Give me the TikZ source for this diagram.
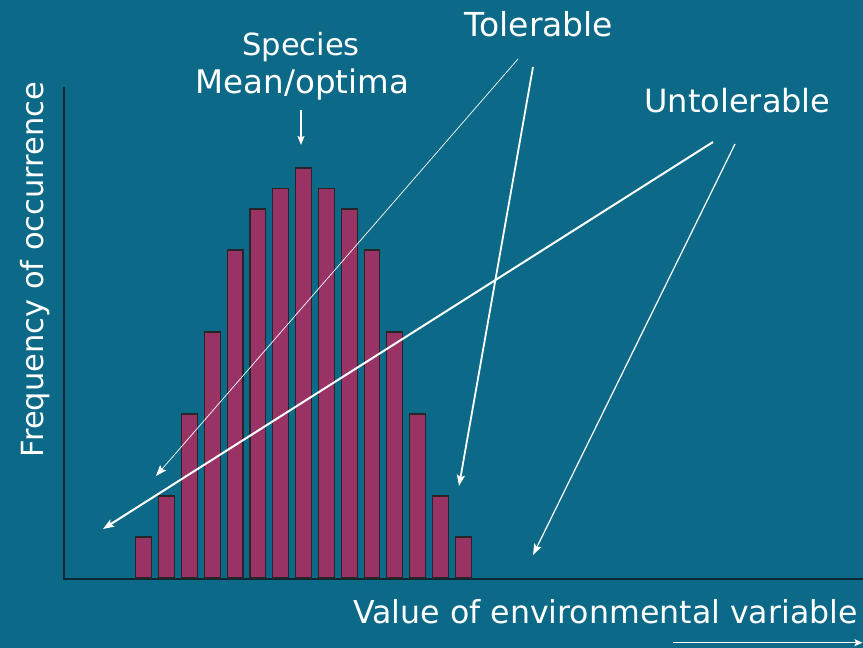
\documentclass[tikz,border=0pt]{standalone}
\usepackage{fontspec}
\setmainfont{DejaVu Sans}
\usepackage{xcolor}
\usepackage{tikz}
\usetikzlibrary{arrows.meta}
\definecolor{slideteal}{RGB}{12,105,136}
\definecolor{barplum}{RGB}{153,51,102}
\definecolor{axisdark}{RGB}{14,38,48}

\begin{document}
\begin{tikzpicture}[x=1pt,y=-1pt,
	bar/.style={fill=barplum,draw=black!85,line width=1.1pt},
	lbl/.style={text=white,inner sep=0pt,anchor=base},
	pointer/.style={white,-{Stealth[length=11pt,width=8pt,inset=2pt]}}]
	\useasboundingbox (0,0) rectangle (863,648);
	\fill[slideteal] (0,0) rectangle (863,648);
	\draw[axisdark,line width=1.8pt] (64,87)--(64,579)--(863,579);
	\draw[bar] (135.9,578) rectangle ++(15.8,-41);
	\draw[bar] (158.7,578) rectangle ++(15.8,-82);
	\draw[bar] (181.5,578) rectangle ++(15.8,-164);
	\draw[bar] (204.4,578) rectangle ++(15.8,-246);
	\draw[bar] (227.2,578) rectangle ++(15.8,-328);
	\draw[bar] (250.0,578) rectangle ++(15.8,-369);
	\draw[bar] (272.8,578) rectangle ++(15.8,-389.5);
	\draw[bar] (295.6,578) rectangle ++(15.8,-410);
	\draw[bar] (318.5,578) rectangle ++(15.8,-389.5);
	\draw[bar] (341.3,578) rectangle ++(15.8,-369);
	\draw[bar] (364.1,578) rectangle ++(15.8,-328);
	\draw[bar] (386.9,578) rectangle ++(15.8,-246);
	\draw[bar] (409.8,578) rectangle ++(15.8,-164);
	\draw[bar] (432.6,578) rectangle ++(15.8,-82);
	\draw[bar] (455.4,578) rectangle ++(15.8,-41);
	\node[lbl,font=\fontsize{30.5}{30.5}\selectfont] (species) at (301,55) {Species};
	\node[lbl,font=\fontsize{32.5}{32.5}\selectfont] (optima) at (302.5,93.3) {Mean/optima};
	\node[lbl,font=\fontsize{33}{33}\selectfont] (tolerable) at (539,36) {Tolerable};
	\node[lbl,font=\fontsize{32}{32}\selectfont] (untolerable) at (737.5,112) {Untolerable};
	\node[lbl,font=\fontsize{30.5}{30.5}\selectfont,rotate=90] (freq) at (43,269.5) {Frequency of occurrence};
	\node[lbl,font=\fontsize{31.6}{31.6}\selectfont] (envvar) at (605.5,623.3) {Value of environmental variable};
	\coordinate (optimum) at (301,110);
	\coordinate (peak) at (301,145);
	\coordinate (tolA) at (518,59);
	\coordinate (tolAend) at (156,476);
	\coordinate (tolB) at (533,67);
	\coordinate (tolBend) at (459,486);
	\coordinate (untA) at (713,142);
	\coordinate (untAend) at (103,529);
	\coordinate (untB) at (735,144);
	\coordinate (untBend) at (533,555);
	\coordinate (envstart) at (673,642.7);
	\coordinate (envend) at (862.5,642.7);
	\draw[white,line width=1.2pt,-{Stealth[length=9pt,width=7pt,inset=1.5pt]}] (optimum)--(peak);
	\draw[pointer,line width=0.7pt] (tolA)--(tolAend);
	\draw[pointer,line width=1.8pt] (tolB)--(tolBend);
	\draw[pointer,line width=2pt] (untA)--(untAend);
	\draw[pointer,line width=1.2pt] (untB)--(untBend);
	\draw[white,line width=1.3pt,-{Stealth[length=8pt,width=7pt,inset=1.5pt]}] (envstart)--(envend);
\end{tikzpicture}
\end{document}
